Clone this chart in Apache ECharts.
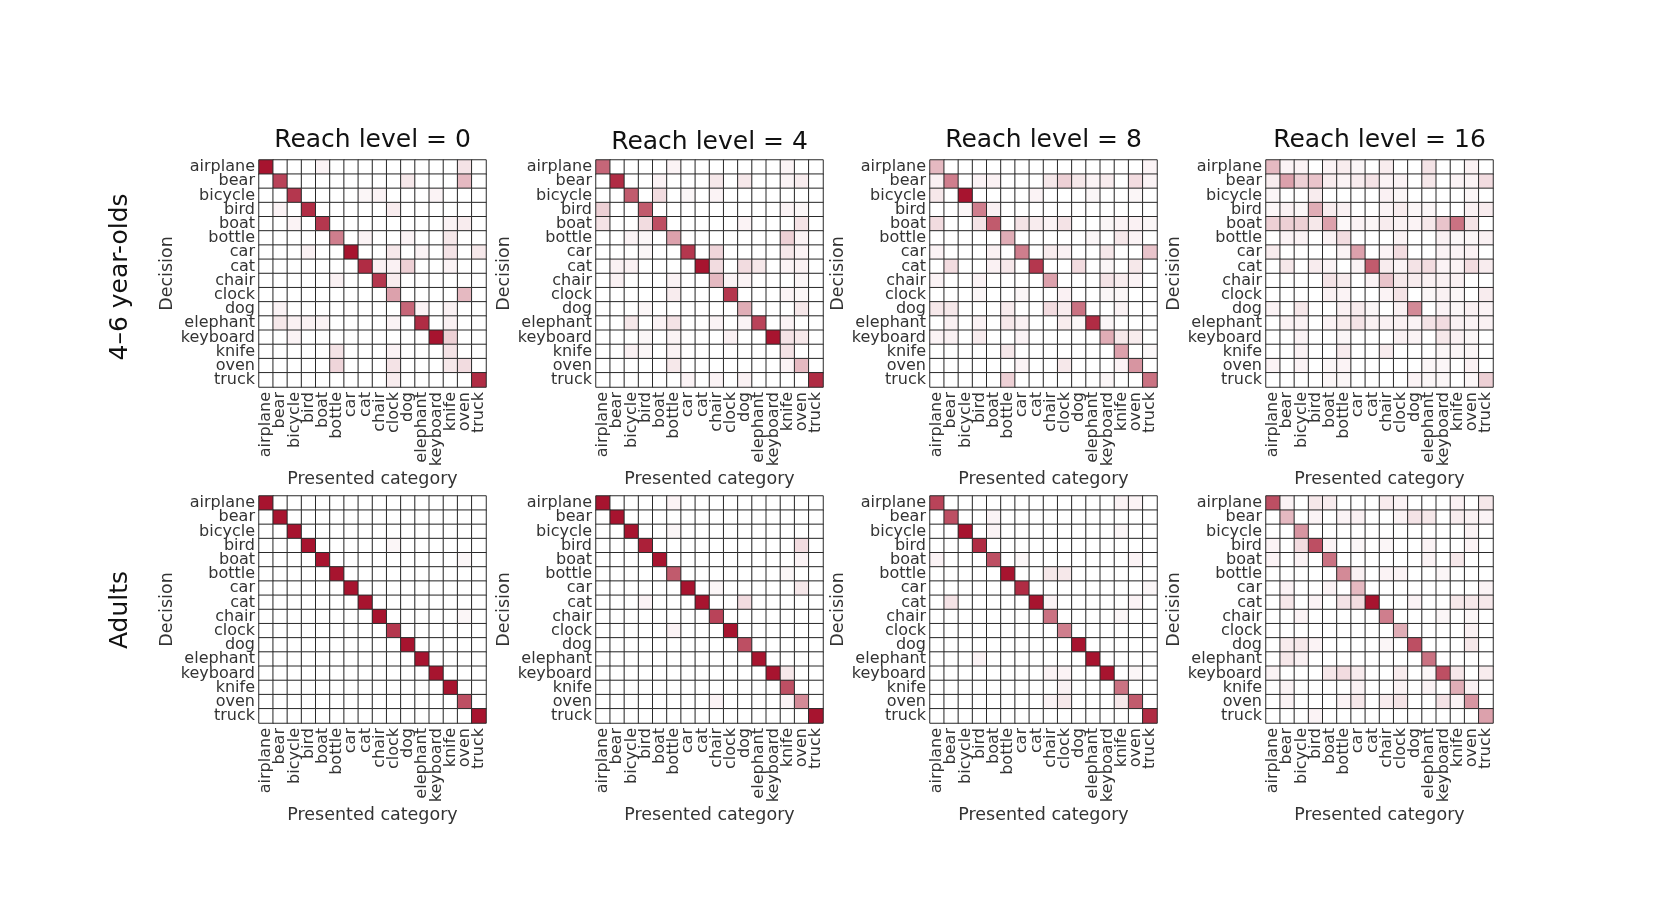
<!DOCTYPE html>
<html>
<head>
<meta charset="utf-8">
<script src="https://cdn.jsdelivr.net/npm/echarts@6/dist/echarts.min.js"></script>
<style>html,body{margin:0;padding:0;background:#fff;}#c{width:1654px;height:918px;}</style>
</head>
<body>
<div id="c"></div>
<script>
const categories = ['airplane','bear','bicycle','bird','boat','bottle','car','cat','chair','clock','dog','elephant','keyboard','knife','oven','truck'];
const reachLevels = ['0','4','8','16'];
const groups = ['4–6 year-olds','Adults'];

// entries: [decision row, presented column, proportion]; unlisted cells are 0
const kidsReach0 = [
[0,0,1.0],[0,4,0.05],[0,14,0.12],
[1,1,0.8],[1,10,0.1],[1,14,0.3],
[2,2,0.85],[2,7,0.04],[2,8,0.05],[2,12,0.05],
[3,1,0.05],[3,3,0.9],[3,9,0.08],
[4,2,0.05],[4,4,0.85],[4,13,0.05],[4,14,0.08],
[5,5,0.55],[5,7,0.05],[5,10,0.05],[5,13,0.1],
[6,3,0.06],[6,6,1.0],[6,9,0.1],[6,11,0.05],[6,13,0.12],[6,15,0.1],
[7,7,0.9],[7,8,0.06],[7,9,0.06],[7,10,0.2],[7,13,0.05],
[8,5,0.06],[8,8,0.85],[8,9,0.08],
[9,9,0.4],[9,14,0.3],
[10,1,0.05],[10,10,0.65],[10,11,0.05],[10,13,0.06],
[11,1,0.1],[11,2,0.06],[11,3,0.06],[11,4,0.05],[11,9,0.05],[11,11,0.9],[11,13,0.06],
[12,2,0.05],[12,12,1.0],[12,13,0.2],
[13,5,0.12],[13,9,0.05],[13,13,0.12],
[14,5,0.18],[14,9,0.12],[14,13,0.1],[14,14,0.15],
[15,9,0.08],[15,15,0.9]
];
const kidsReach4 = [
[0,0,0.65],[0,5,0.05],[0,13,0.05],
[1,1,0.9],[1,4,0.05],[1,8,0.1],[1,10,0.1],[1,13,0.05],[1,14,0.08],
[2,2,0.7],[2,4,0.15],[2,6,0.04],[2,8,0.05],
[3,0,0.2],[3,3,0.7],[3,13,0.05],[3,14,0.04],
[4,0,0.12],[4,3,0.15],[4,4,0.75],[4,10,0.05],[4,14,0.12],
[5,2,0.05],[5,3,0.04],[5,5,0.4],[5,13,0.2],[5,14,0.05],
[6,3,0.04],[6,6,0.85],[6,8,0.18],[6,13,0.1],[6,14,0.05],
[7,1,0.06],[7,2,0.06],[7,7,1.0],[7,8,0.15],[7,10,0.15],[7,11,0.1],[7,13,0.05],[7,14,0.06],
[8,1,0.06],[8,5,0.05],[8,8,0.3],[8,9,0.05],[8,10,0.05],[8,14,0.04],
[9,5,0.08],[9,9,0.85],[9,13,0.05],[9,14,0.04],
[10,3,0.04],[10,10,0.35],[10,14,0.1],
[11,2,0.1],[11,4,0.05],[11,5,0.12],[11,8,0.05],[11,10,0.05],[11,11,0.8],[11,13,0.05],
[12,3,0.04],[12,5,0.05],[12,9,0.06],[12,12,1.0],[12,13,0.12],[12,14,0.1],
[13,2,0.06],[13,3,0.04],[13,5,0.05],[13,13,0.12],
[14,5,0.1],[14,13,0.05],[14,14,0.3],
[15,6,0.05],[15,8,0.05],[15,10,0.06],[15,15,0.9]
];
const kidsReach8 = [
[0,0,0.3],[0,15,0.05],
[1,0,0.06],[1,1,0.55],[1,3,0.05],[1,4,0.06],[1,8,0.1],[1,9,0.2],[1,10,0.1],[1,11,0.05],[1,12,0.08],[1,14,0.15],[1,15,0.05],
[2,0,0.1],[2,2,1.0],[2,7,0.05],[2,11,0.04],[2,14,0.04],
[3,2,0.04],[3,3,0.55],[3,4,0.06],
[4,0,0.15],[4,3,0.12],[4,4,0.7],[4,6,0.12],[4,7,0.08],[4,8,0.05],[4,9,0.12],[4,12,0.04],[4,13,0.05],[4,14,0.06],[4,15,0.04],
[5,5,0.35],[5,11,0.04],[5,13,0.1],[5,14,0.05],
[6,0,0.05],[6,4,0.06],[6,6,0.55],[6,8,0.08],[6,9,0.06],[6,12,0.1],[6,15,0.25],
[7,1,0.15],[7,4,0.06],[7,5,0.1],[7,7,0.85],[7,10,0.15],[7,12,0.04],[7,14,0.1],
[8,0,0.05],[8,3,0.05],[8,8,0.4],[8,12,0.12],[8,13,0.08],[8,14,0.05],
[9,3,0.04],[9,6,0.04],[9,9,0.06],[9,12,0.04],[9,13,0.04],
[10,0,0.1],[10,1,0.1],[10,5,0.08],[10,8,0.15],[10,9,0.08],[10,10,0.6],[10,13,0.05],
[11,1,0.06],[11,3,0.05],[11,5,0.1],[11,6,0.06],[11,9,0.08],[11,10,0.04],[11,11,0.9],[11,12,0.04],
[12,0,0.05],[12,1,0.06],[12,3,0.08],[12,6,0.05],[12,12,0.35],[12,13,0.1],[12,14,0.08],
[13,5,0.1],[13,13,0.4],[13,15,0.03],
[14,6,0.05],[14,9,0.1],[14,13,0.05],[14,14,0.45],
[15,5,0.2],[15,12,0.04],[15,15,0.6]
];
const kidsReach16 = [
[0,0,0.3],[0,1,0.05],[0,2,0.05],[0,4,0.05],[0,5,0.08],[0,6,0.04],[0,8,0.08],[0,11,0.12],[0,14,0.06],
[1,0,0.08],[1,1,0.4],[1,2,0.2],[1,3,0.25],[1,4,0.08],[1,5,0.05],[1,6,0.08],[1,7,0.12],[1,8,0.05],[1,9,0.05],[1,11,0.1],[1,13,0.05],[1,14,0.05],[1,15,0.15],
[2,0,0.04],[2,3,0.08],[2,8,0.06],[2,9,0.04],[2,14,0.04],
[3,0,0.04],[3,1,0.06],[3,2,0.04],[3,3,0.35],[3,4,0.08],[3,5,0.06],[3,8,0.05],[3,9,0.08],[3,10,0.04],[3,11,0.04],[3,14,0.06],[3,15,0.08],
[4,0,0.2],[4,1,0.2],[4,2,0.2],[4,3,0.1],[4,4,0.4],[4,5,0.03],[4,6,0.05],[4,7,0.04],[4,8,0.08],[4,9,0.06],[4,10,0.05],[4,11,0.1],[4,12,0.25],[4,13,0.6],[4,14,0.12],
[5,1,0.05],[5,2,0.05],[5,4,0.05],[5,5,0.15],[5,9,0.05],[5,12,0.06],[5,13,0.04],[5,14,0.04],[5,15,0.06],
[6,0,0.08],[6,5,0.05],[6,6,0.4],[6,8,0.05],[6,9,0.15],[6,12,0.05],[6,13,0.05],[6,14,0.06],
[7,1,0.1],[7,3,0.08],[7,4,0.05],[7,6,0.05],[7,7,0.7],[7,8,0.08],[7,9,0.05],[7,10,0.12],[7,11,0.15],[7,12,0.05],[7,13,0.05],[7,14,0.15],[7,15,0.08],
[8,4,0.12],[8,5,0.08],[8,7,0.05],[8,8,0.25],[8,9,0.1],[8,10,0.08],[8,11,0.06],[8,12,0.06],[8,13,0.06],
[9,4,0.06],[9,5,0.05],[9,8,0.05],[9,9,0.12],[9,11,0.04],[9,12,0.06],[9,13,0.04],[9,15,0.08],
[10,0,0.05],[10,2,0.1],[10,5,0.06],[10,6,0.08],[10,7,0.04],[10,9,0.06],[10,10,0.5],[10,12,0.05],[10,13,0.04],[10,14,0.06],[10,15,0.05],
[11,1,0.05],[11,2,0.05],[11,4,0.05],[11,5,0.08],[11,6,0.12],[11,7,0.06],[11,8,0.06],[11,9,0.06],[11,10,0.05],[11,11,0.12],[11,12,0.15],[11,13,0.06],[11,14,0.05],[11,15,0.06],
[12,2,0.05],[12,5,0.04],[12,9,0.06],[12,10,0.05],[12,12,0.1],[12,13,0.06],[12,14,0.04],
[13,2,0.05],[13,5,0.08],[13,8,0.08],[13,12,0.04],[13,13,0.04],[13,14,0.04],
[14,0,0.05],[14,2,0.05],[14,4,0.04],[14,5,0.05],[14,11,0.04],[14,12,0.04],[14,14,0.06],
[15,4,0.04],[15,5,0.04],[15,10,0.05],[15,11,0.04],[15,12,0.04],[15,14,0.04],[15,15,0.2]
];
const adultsReach0 = [
[0,0,1.0],[1,1,1.0],[2,2,1.0],[3,3,1.0],[3,9,0.04],[4,4,1.0],[4,14,0.04],[5,5,1.0],[6,6,1.0],[7,7,1.0],
[8,8,1.0],[8,14,0.04],[9,9,0.85],[10,10,1.0],[11,11,1.0],[12,12,1.0],[13,13,1.0],[14,14,0.75],[15,15,1.0]
];
const adultsReach4 = [
[0,0,1.0],[0,5,0.05],
[1,1,1.0],
[2,2,1.0],[2,5,0.04],
[3,3,0.95],[3,14,0.15],
[4,4,1.0],[4,14,0.05],
[5,5,0.7],[5,13,0.04],
[6,6,1.0],[6,8,0.04],[6,14,0.1],
[7,3,0.05],[7,7,1.0],[7,10,0.15],
[8,8,0.8],
[9,5,0.05],[9,9,1.0],
[10,10,0.75],
[11,11,1.0],
[12,12,1.0],[12,13,0.1],
[13,13,0.75],
[14,8,0.05],[14,13,0.05],[14,14,0.5],
[15,15,1.0]
];
const adultsReach8 = [
[0,0,0.8],[0,13,0.05],[0,14,0.05],
[1,1,0.75],[1,4,0.05],
[2,2,1.0],[2,4,0.05],[2,13,0.04],
[3,3,0.9],
[4,0,0.05],[4,4,0.75],[4,6,0.04],[4,14,0.05],
[5,5,1.0],[5,8,0.1],[5,9,0.1],
[6,6,0.9],[6,15,0.04],
[7,1,0.12],[7,7,1.0],[7,8,0.05],[7,14,0.05],
[8,8,0.6],[8,13,0.04],
[9,9,0.55],
[10,10,1.0],
[11,3,0.05],[11,11,1.0],
[12,8,0.05],[12,9,0.05],[12,12,1.0],[12,14,0.04],
[13,9,0.06],[13,13,0.6],
[14,8,0.05],[14,9,0.1],[14,13,0.1],[14,14,0.7],
[15,15,0.9]
];
const adultsReach16 = [
[0,0,0.75],[0,1,0.05],[0,3,0.1],[0,4,0.08],[0,8,0.08],[0,9,0.05],[0,13,0.06],[0,15,0.1],
[1,1,0.3],[1,3,0.05],[1,5,0.05],[1,6,0.06],[1,9,0.05],[1,10,0.12],[1,11,0.1],[1,13,0.08],[1,14,0.06],[1,15,0.05],
[2,2,0.45],[2,14,0.05],
[3,0,0.05],[3,2,0.15],[3,3,0.75],[3,4,0.05],[3,6,0.04],[3,8,0.04],[3,11,0.05],[3,14,0.05],
[4,0,0.05],[4,2,0.05],[4,4,0.6],[4,11,0.05],[4,13,0.1],
[5,5,0.5],[5,6,0.06],[5,8,0.05],[5,9,0.05],[5,12,0.04],
[6,1,0.05],[6,4,0.05],[6,6,0.3],[6,15,0.05],
[7,1,0.1],[7,3,0.05],[7,5,0.12],[7,6,0.15],[7,7,1.0],[7,10,0.05],[7,13,0.1],[7,14,0.1],[7,15,0.1],
[8,2,0.05],[8,8,0.55],[8,12,0.04],[8,14,0.04],
[9,9,0.35],[9,14,0.06],
[10,1,0.08],[10,2,0.1],[10,3,0.05],[10,8,0.04],[10,10,0.75],[10,14,0.1],
[11,1,0.1],[11,2,0.06],[11,11,0.6],
[12,0,0.05],[12,4,0.1],[12,5,0.15],[12,6,0.08],[12,9,0.08],[12,11,0.04],[12,12,0.75],[12,13,0.1],[12,15,0.08],
[13,1,0.05],[13,6,0.05],[13,9,0.05],[13,11,0.05],[13,13,0.35],[13,14,0.06],
[14,1,0.05],[14,5,0.05],[14,6,0.1],[14,8,0.08],[14,9,0.12],[14,12,0.12],[14,13,0.05],[14,14,0.45],
[15,3,0.05],[15,15,0.4]
];

const matrices = [kidsReach0, kidsReach4, kidsReach8, kidsReach16, adultsReach0, adultsReach4, adultsReach8, adultsReach16];

function toHeatmap(entries) {
  const n = categories.length;
  const grid = [];
  for (let r = 0; r < n; r++) { grid.push(new Array(n).fill(0)); }
  entries.forEach(e => { grid[e[0]][e[1]] = e[2]; });
  const out = [];
  for (let r = 0; r < n; r++) for (let c = 0; c < n; c++) out.push([c, r, grid[r][c]]);
  return out;
}

const FONT = 'DejaVu Sans';
const lefts = [259, 596, 930, 1266];
const tops = [160, 496];
const SIZE = 227;

const grids = [], xAxes = [], yAxes = [], series = [];
matrices.forEach((m, i) => {
  const row = Math.floor(i / 4), col = i % 4;
  grids.push({ left: lefts[col], top: tops[row], width: SIZE, height: SIZE, containLabel: false });
  xAxes.push({
    type: 'category', gridIndex: i, data: categories, position: 'bottom',
    axisLine: { show: false }, axisTick: { show: false }, splitLine: { show: false },
    axisLabel: { rotate: 90, interval: 0, fontSize: 16, margin: 5, color: '#333', fontFamily: FONT },
    name: 'Presented category', nameLocation: 'middle', nameGap: 80,
    nameTextStyle: { fontSize: 17.5, color: '#333', fontFamily: FONT }
  });
  yAxes.push({
    type: 'category', gridIndex: i, data: categories, inverse: true,
    axisLine: { show: false }, axisTick: { show: false }, splitLine: { show: false },
    axisLabel: { interval: 0, fontSize: 16, margin: 4, color: '#333', fontFamily: FONT },
    name: 'Decision', nameLocation: 'middle', nameGap: 77, nameRotate: 90,
    nameTextStyle: { fontSize: 17.5, color: '#333', fontFamily: FONT }
  });
  series.push({
    type: 'heatmap', xAxisIndex: i, yAxisIndex: i, data: toHeatmap(m),
    itemStyle: { borderColor: '#2a2a2a', borderWidth: 1 },
    emphasis: { disabled: true }, silent: true, progressive: 0
  });
});

const graphics = [];
reachLevels.forEach((r, c) => {
  graphics.push({ type: 'text', x: lefts[c] + SIZE / 2, y: 140 + (c === 1 ? 2 : 0),
    style: { text: 'Reach level = ' + r, font: '25px "DejaVu Sans"', fill: '#111', textAlign: 'center', textVerticalAlign: 'middle' } });
});
const groupY = [277, 610];
groups.forEach((g, k) => {
  graphics.push({ type: 'text', x: 120, y: groupY[k], rotation: Math.PI / 2,
    style: { text: g, font: '25px "DejaVu Sans"', fill: '#111', textAlign: 'center', textVerticalAlign: 'middle' } });
});

const chart = echarts.init(document.getElementById('c'));
chart.setOption({
  animation: false,
  backgroundColor: '#ffffff',
  grid: grids, xAxis: xAxes, yAxis: yAxes, series: series,
  visualMap: { show: false, min: 0, max: 1, seriesIndex: series.map((_, i) => i), inRange: { color: ['#ffffff', '#a7142f'] } },
  graphic: graphics
});
</script>
</body>
</html>
